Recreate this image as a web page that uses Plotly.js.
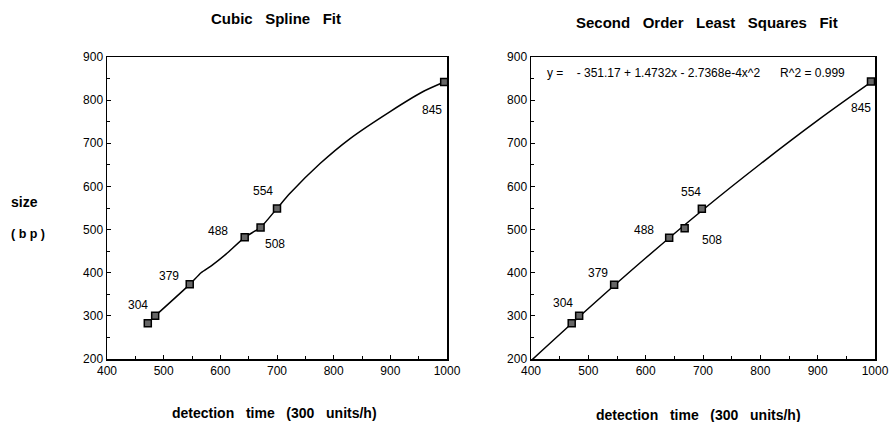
<!DOCTYPE html>
<html><head><meta charset="utf-8">
<script src="https://cdn.plot.ly/plotly-3.0.1.min.js"></script>
<style>html,body{margin:0;padding:0;background:#fff;}#chart{width:890px;height:422px;}</style>
</head><body><div id="chart"></div>
<script>
// Measured data points (detection time, size in bp)
const splineX = [472, 485, 546, 643, 671, 700, 995];
const splineY = [283, 300, 373, 482, 505, 549, 842];
const lsqX = [471, 484, 545, 641, 668, 698, 993];
const lsqY = [283, 300, 372, 481, 503, 548, 843];
// Curves
const splineCurveX = [485, 546, 566, 584, 610, 643, 671, 700, 723, 776, 829, 899, 958, 995];
const splineCurveY = [300, 373, 400, 416, 443, 482, 505, 549, 584, 653, 711, 773, 820, 842];
const lsqCurveX = [400, 500, 600, 700, 800, 900, 1000];
const lsqCurveY = [196, 317, 434, 546, 652, 753, 848];
const pointLabels = ['304', '379', '488', '508', '554', '845'];
const leftLabelX = [454, 510, 596, 697, 675, 973];
const leftLabelY = [326, 393, 496, 467, 589, 777];
const rightLabelX = [455, 516, 597, 715, 679, 975];
const rightLabelY = [330, 400, 499, 475, 587, 782];
const equationText = 'y =\u00a0\u00a0\u00a0 - 351.17 + 1.4732x - 2.7368e-4x^2\u00a0\u00a0\u00a0\u00a0\u00a0 R^2 = 0.999';

const FONT = 'Liberation Sans, Arial, Helvetica, sans-serif';
const marker = {symbol: 'square', size: 7, color: '#666', line: {color: '#000', width: 1.5}};

const traces = [
  {x: splineCurveX, y: splineCurveY, mode: 'lines', line: {color: '#000', width: 1.5, shape: 'spline', smoothing: 0.6}, xaxis: 'x', yaxis: 'y', hoverinfo: 'skip'},
  {x: splineX, y: splineY, mode: 'markers', marker: marker, xaxis: 'x', yaxis: 'y'},
  {x: lsqCurveX, y: lsqCurveY, mode: 'lines', line: {color: '#000', width: 1.5, shape: 'spline'}, xaxis: 'x2', yaxis: 'y2', hoverinfo: 'skip'},
  {x: lsqX, y: lsqY, mode: 'markers', marker: marker, xaxis: 'x2', yaxis: 'y2'}
];

function axis(domain, range, dtick, anchor) {
  return {
    domain: domain, range: range, dtick: dtick, tick0: range[0], anchor: anchor,
    showgrid: false, zeroline: false, showline: true, linecolor: '#000', linewidth: 1.5,
    mirror: true, ticks: 'inside', ticklen: 4, tickwidth: 1, tickcolor: '#000',
    minor: {ticks: 'inside', ticklen: 3, dtick: dtick / 2, tickcolor: '#000', tickwidth: 1},
    tickfont: {family: FONT, size: 12, color: '#000'}, fixedrange: true
  };
}

const xd1 = [107/890, 447/890], xd2 = [531/890, 875/890];
const yd = [1 - 359/422, 1 - 57/422];

const annotations = [];
pointLabels.forEach((t, i) => {
  annotations.push({x: leftLabelX[i], y: leftLabelY[i], xref: 'x', yref: 'y', text: t, showarrow: false,
    font: {family: FONT, size: 12, color: '#000'}});
  annotations.push({x: rightLabelX[i], y: rightLabelY[i], xref: 'x2', yref: 'y2', text: t, showarrow: false,
    font: {family: FONT, size: 12, color: '#000'}});
});
annotations.push({x: 687, y: 862, xref: 'x2', yref: 'y2', text: equationText, showarrow: false,
  font: {family: FONT, size: 12, color: '#000'}});
const bold = (s) => '<b>' + s + '</b>';
function paperText(px, py, text, size, anchor) {
  annotations.push({x: px/890, y: 1 - py/422, xref: 'paper', yref: 'paper', xanchor: anchor || 'center', yanchor: 'middle',
    text: bold(text), showarrow: false, font: {family: FONT, size: size, color: '#000'}});
}
paperText(276, 18, 'Cubic\u00a0\u00a0 Spline\u00a0\u00a0 Fit', 15);
paperText(707, 23, 'Second\u00a0\u00a0 Order\u00a0\u00a0 Least\u00a0\u00a0 Squares\u00a0\u00a0 Fit', 15);
paperText(274, 413, 'detection\u00a0\u00a0 time\u00a0\u00a0 (300\u00a0\u00a0 units/h)', 14);
paperText(698, 415, 'detection\u00a0\u00a0 time\u00a0\u00a0 (300\u00a0\u00a0 units/h)', 14);
paperText(9, 202, 'size', 14, 'left');
paperText(9, 234, '( b p )', 12.5, 'left');

const layout = {
  width: 890, height: 422, margin: {l: 0, r: 0, t: 0, b: 0},
  paper_bgcolor: '#fff', plot_bgcolor: '#fff', showlegend: false,
  xaxis: axis(xd1, [400, 1000], 100, 'y'),
  yaxis: axis(yd, [200, 900], 100, 'x'),
  xaxis2: axis(xd2, [400, 1000], 100, 'y2'),
  yaxis2: axis(yd, [200, 900], 100, 'x2'),
  annotations: annotations
};

Plotly.newPlot('chart', traces, layout, {displayModeBar: false, staticPlot: true});
</script></body></html>
